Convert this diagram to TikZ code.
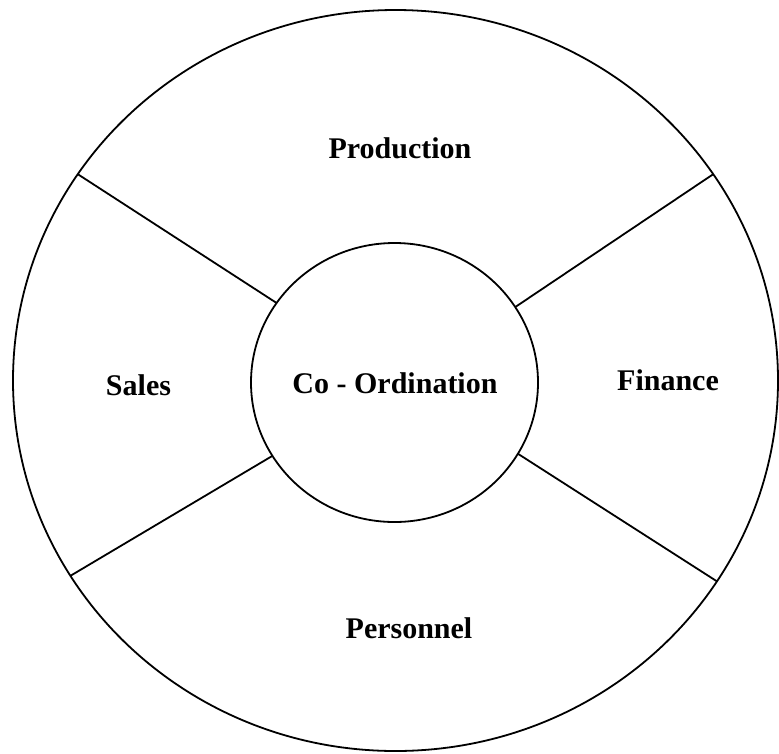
\documentclass[tikz,border=0pt]{standalone}
\usepackage{fontspec}
\setmainfont{Liberation Serif}
\usetikzlibrary{shapes.geometric}
\tikzset{
  ring/.style={draw, ellipse, line width=1.8pt, inner sep=0pt, outer sep=0pt},
  spoke/.style={line width=1.8pt},
  lab/.style={font=\fontsize{30}{35}\selectfont\bfseries, anchor=base, inner sep=0pt}
}
\begin{document}
\begin{tikzpicture}[x=1pt,y=-1pt]
\useasboundingbox (0,0) rectangle (779,753);
\node[ring, minimum width=765pt, minimum height=741pt] (outer) at (395.5,380.5) {};
\node[ring, minimum width=287pt, minimum height=279pt] (inner) at (394.5,382.5) {};
\draw[spoke] (inner.146.4) -- (outer.147);
\draw[spoke] (inner.32.5) -- (outer.33.1);
\draw[spoke] (inner.211.5) -- (outer.211.5);
\draw[spoke] (inner.330.5) -- (outer.328.3);
\node[lab] (prod) at (400,158) {Production};
\node[lab] (sales) at (138.5,395) {Sales};
\node[lab] (coord) at (395,393) {Co - Ordination};
\node[lab] (fin) at (668,390) {Finance};
\node[lab] (pers) at (409,638) {Personnel};
\end{tikzpicture}
\end{document}
